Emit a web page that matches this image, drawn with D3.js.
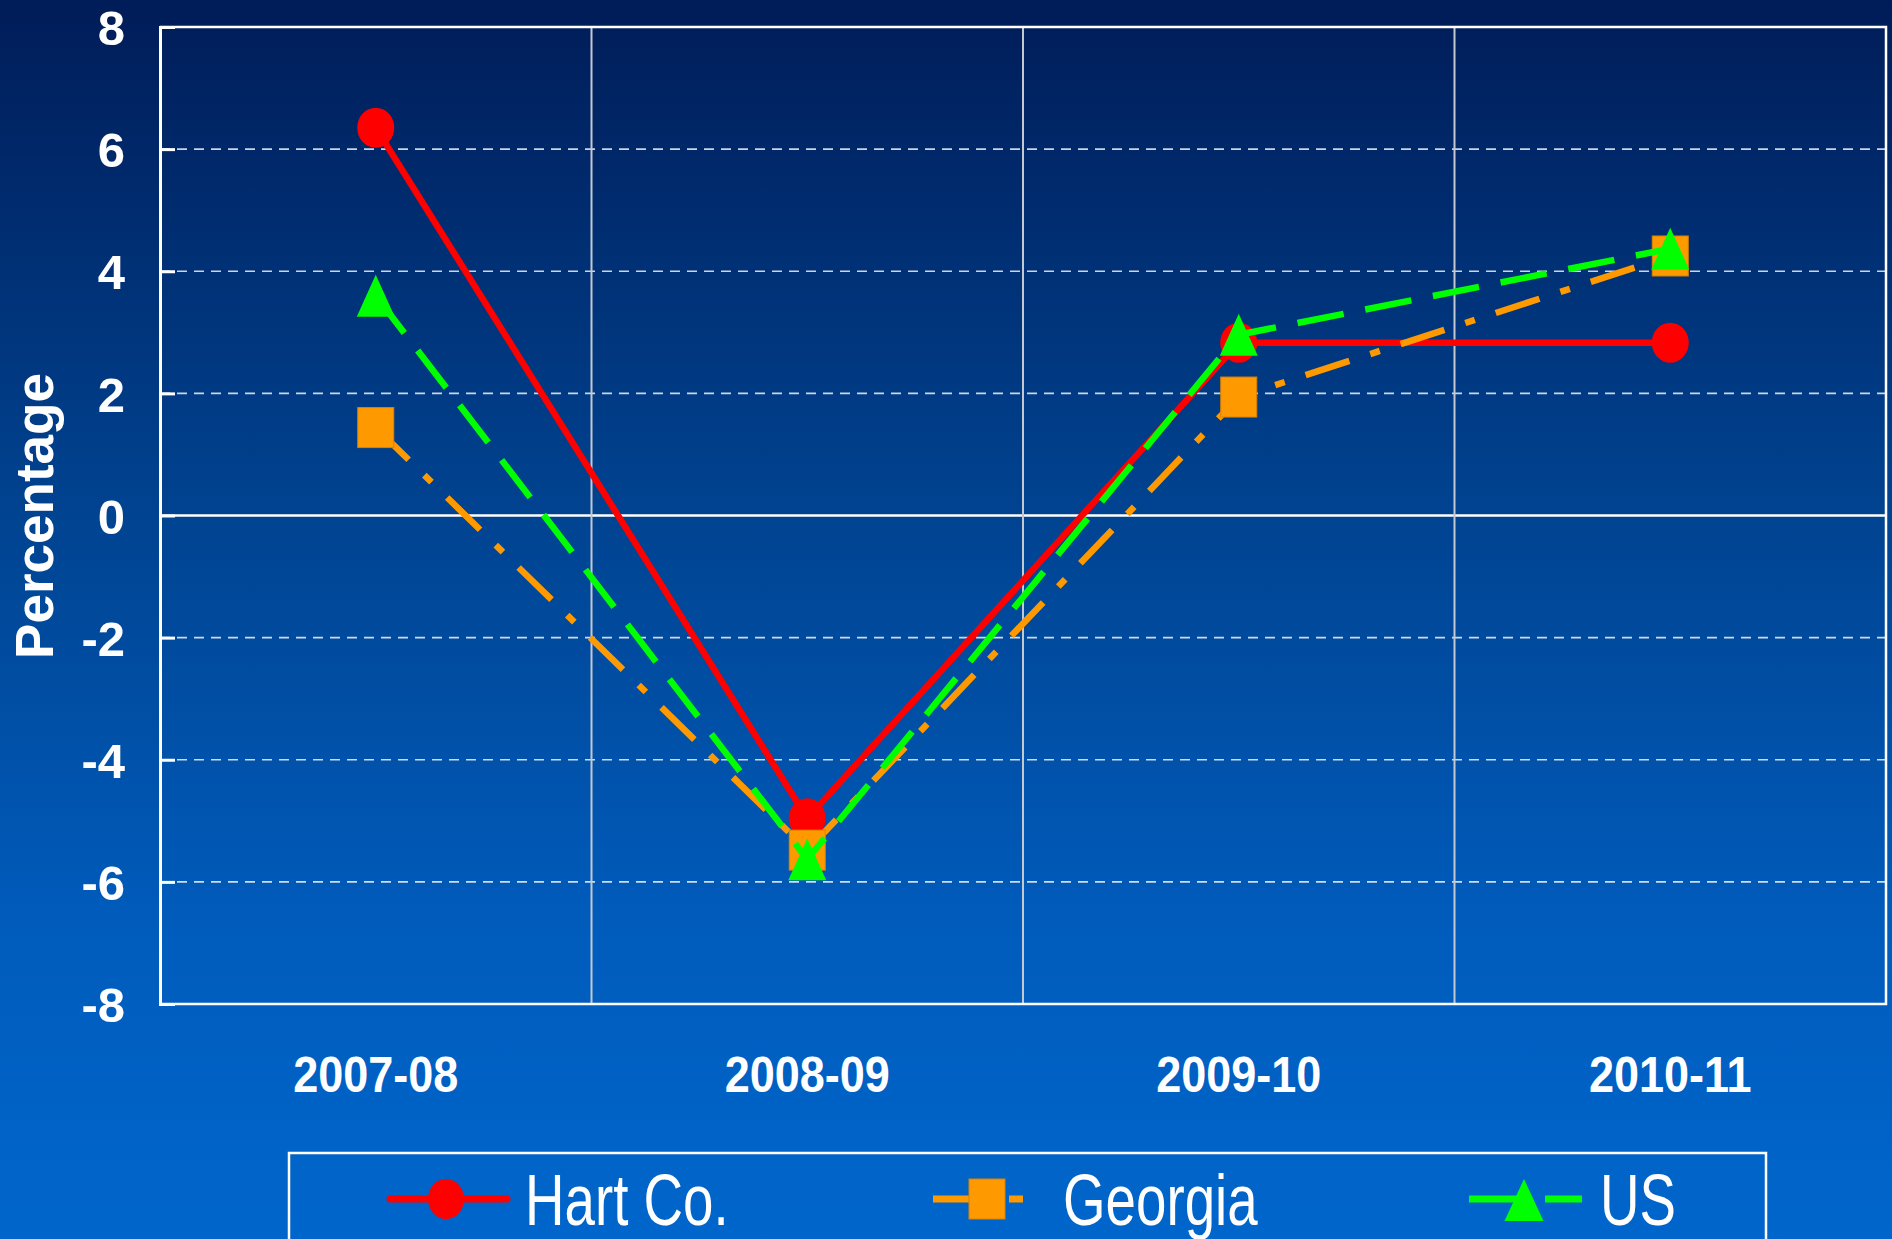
<!DOCTYPE html>
<html>
<head>
<meta charset="utf-8">
<script src="https://cdn.jsdelivr.net/npm/d3@7"></script>
<style>
  html, body { margin: 0; padding: 0; overflow: hidden; background: #0066cc; }
  text { font-family: "Liberation Sans", Arial, sans-serif; fill: #fff; }
</style>
</head>
<body>
<div id="chart"></div>
<script>
// data
const categories = ['2007-08', '2008-09', '2009-10', '2010-11'];
const hartValues = [6.35, -4.96, 2.83, 2.83];
const georgiaValues = [1.44, -5.48, 1.94, 4.25];
const usValues = [3.6, -5.63, 2.96, 4.37];
const yTicks = [-8, -6, -4, -2, 0, 2, 4, 6, 8];
const seriesNames = ['Hart Co.', 'Georgia', 'US'];

const W = 1892, H = 1239;
const margin = { top: 27, right: 6, bottom: 235, left: 160 };
const width = W - margin.left - margin.right;
const height = H - margin.top - margin.bottom;

const series = [
  { name: seriesNames[0], values: hartValues, color: '#ff0000', dash: null, marker: 'circle' },
  { name: seriesNames[1], values: georgiaValues, color: '#ff9900', dash: '46 22 10 22', marker: 'square' },
  { name: seriesNames[2], values: usValues, color: '#00ff00', dash: '47 22', marker: 'triangle' }
];

const svg = d3.select('#chart').append('svg')
  .attr('width', W)
  .attr('height', H);

// background gradient
const grad = svg.append('defs').append('linearGradient')
  .attr('id', 'bg').attr('x1', 0).attr('y1', 0).attr('x2', 0).attr('y2', 1);
grad.append('stop').attr('offset', '0%').attr('stop-color', '#001c58');
grad.append('stop').attr('offset', '40%').attr('stop-color', '#00428f');
grad.append('stop').attr('offset', '75%').attr('stop-color', '#005cbc');
grad.append('stop').attr('offset', '100%').attr('stop-color', '#0066cc');
svg.append('rect').attr('width', W).attr('height', H).attr('fill', 'url(#bg)');

const g = svg.append('g').attr('transform', `translate(${margin.left},${margin.top})`);

const x = d3.scaleBand().domain(categories).range([0, width]).padding(0);
const y = d3.scaleLinear().domain([-8, 8]).range([height, 0]);
const cx = c => x(c) + x.bandwidth() / 2;

// horizontal grid
g.append('g')
  .selectAll('line')
  .data(yTicks.filter(d => d !== 8 && d !== -8))
  .join('line')
  .attr('x1', 0).attr('x2', width)
  .attr('y1', d => y(d)).attr('y2', d => y(d))
  .attr('stroke', d => d === 0 ? '#ffffff' : 'rgba(255,255,255,0.8)')
  .attr('stroke-width', d => d === 0 ? 2.5 : 1.6)
  .attr('stroke-dasharray', d => d === 0 ? null : '10 7');

// vertical grid at band boundaries
g.append('g')
  .selectAll('line')
  .data(categories.slice(1))
  .join('line')
  .attr('x1', d => x(d)).attr('x2', d => x(d))
  .attr('y1', 0).attr('y2', height)
  .attr('stroke', '#c4c8d0')
  .attr('stroke-width', 2);

// frame: top, right, bottom
g.append('path')
  .attr('d', `M0,0H${width}V${height}H0`)
  .attr('fill', 'none')
  .attr('stroke', '#ffffff')
  .attr('stroke-width', 2.5);

// left axis with inward ticks
const yAxis = g.append('g')
  .call(d3.axisLeft(y).tickValues(yTicks).tickSize(-15).tickPadding(35).tickFormat(d => String(d)));
yAxis.select('.domain').attr('stroke', '#fff').attr('stroke-width', 3);
yAxis.selectAll('.tick line').attr('stroke', '#fff').attr('stroke-width', 3);
yAxis.selectAll('.tick text')
  .attr('fill', '#fff')
  .style('font-size', '49px')
  .style('font-weight', 'bold')
  .attr('dy', '0.36em');

// bottom axis labels
const xAxis = g.append('g')
  .attr('transform', `translate(0,${height})`)
  .call(d3.axisBottom(x).tickSize(0).tickPadding(53));
xAxis.select('.domain').remove();
xAxis.selectAll('.tick text')
  .attr('fill', '#fff')
  .style('font-size', '50px')
  .style('font-weight', 'bold')
  .attr('transform', 'scale(0.9,1)');

// y title
svg.append('text')
  .attr('transform', 'translate(53,516) rotate(-90)')
  .attr('text-anchor', 'middle')
  .style('font-size', '53px')
  .style('font-weight', 'bold')
  .text('Percentage');

function drawMarker(sel, type, px, py, w, h, color) {
  if (type === 'circle') {
    sel.append('ellipse').attr('cx', px).attr('cy', py).attr('rx', w / 2).attr('ry', h / 2).attr('fill', color);
  } else if (type === 'square') {
    sel.append('rect').attr('x', px - w / 2).attr('y', py - h / 2).attr('width', w).attr('height', h)
      .attr('fill', color).attr('stroke', '#d98200').attr('stroke-width', 1);
  } else {
    sel.append('path')
      .attr('d', `M${px},${py - h / 2}L${px + w / 2},${py + h / 2}L${px - w / 2},${py + h / 2}Z`)
      .attr('fill', color);
  }
}

const markerSize = { circle: [37, 40], square: [36, 40], triangle: [38, 42] };

const line = d3.line()
  .x((d, i) => cx(categories[i]))
  .y(d => y(d));

series.forEach(s => {
  const sg = g.append('g');
  sg.append('path')
    .datum(s.values)
    .attr('d', line)
    .attr('fill', 'none')
    .attr('stroke', s.color)
    .attr('stroke-width', 6.5)
    .attr('stroke-dasharray', s.dash);
  s.values.forEach((v, i) => {
    const [mw, mh] = markerSize[s.marker];
    drawMarker(sg, s.marker, cx(categories[i]), y(v), mw, mh, s.color);
  });
});

// legend
const legend = svg.append('g');
legend.append('rect')
  .attr('x', 289).attr('y', 1153)
  .attr('width', 1477).attr('height', 140)
  .attr('fill', 'none')
  .attr('stroke', '#fff')
  .attr('stroke-width', 2.5);

const legendLayout = [
  { x0: 390, x1: 507, mx: 446, tx: 525, dash: null, mw: 36 },
  { x0: 933, x1: 1023, mx: 987, tx: 1063, dash: '54 22 14', mw: 36 },
  { x0: 1469, x1: 1582, mx: 1524, tx: 1600, dash: '50 26 40', mw: 39 }
];
const ly = 1199;
series.forEach((s, i) => {
  const l = legendLayout[i];
  legend.append('line')
    .attr('x1', l.x0).attr('x2', l.x1)
    .attr('y1', ly).attr('y2', ly)
    .attr('stroke', s.color)
    .attr('stroke-width', 7)
    .attr('stroke-linecap', s.dash ? 'butt' : 'round')
    .attr('stroke-dasharray', l.dash);
  drawMarker(legend, s.marker, l.mx, s.marker === 'triangle' ? ly + 1 : ly, l.mw, s.marker === 'triangle' ? 42 : 40, s.color);
  legend.append('text')
    .attr('transform', `translate(${l.tx},1225) scale(0.76,1)`)
    .style('font-size', '72px')
    .text(s.name);
});
</script>
</body>
</html>
